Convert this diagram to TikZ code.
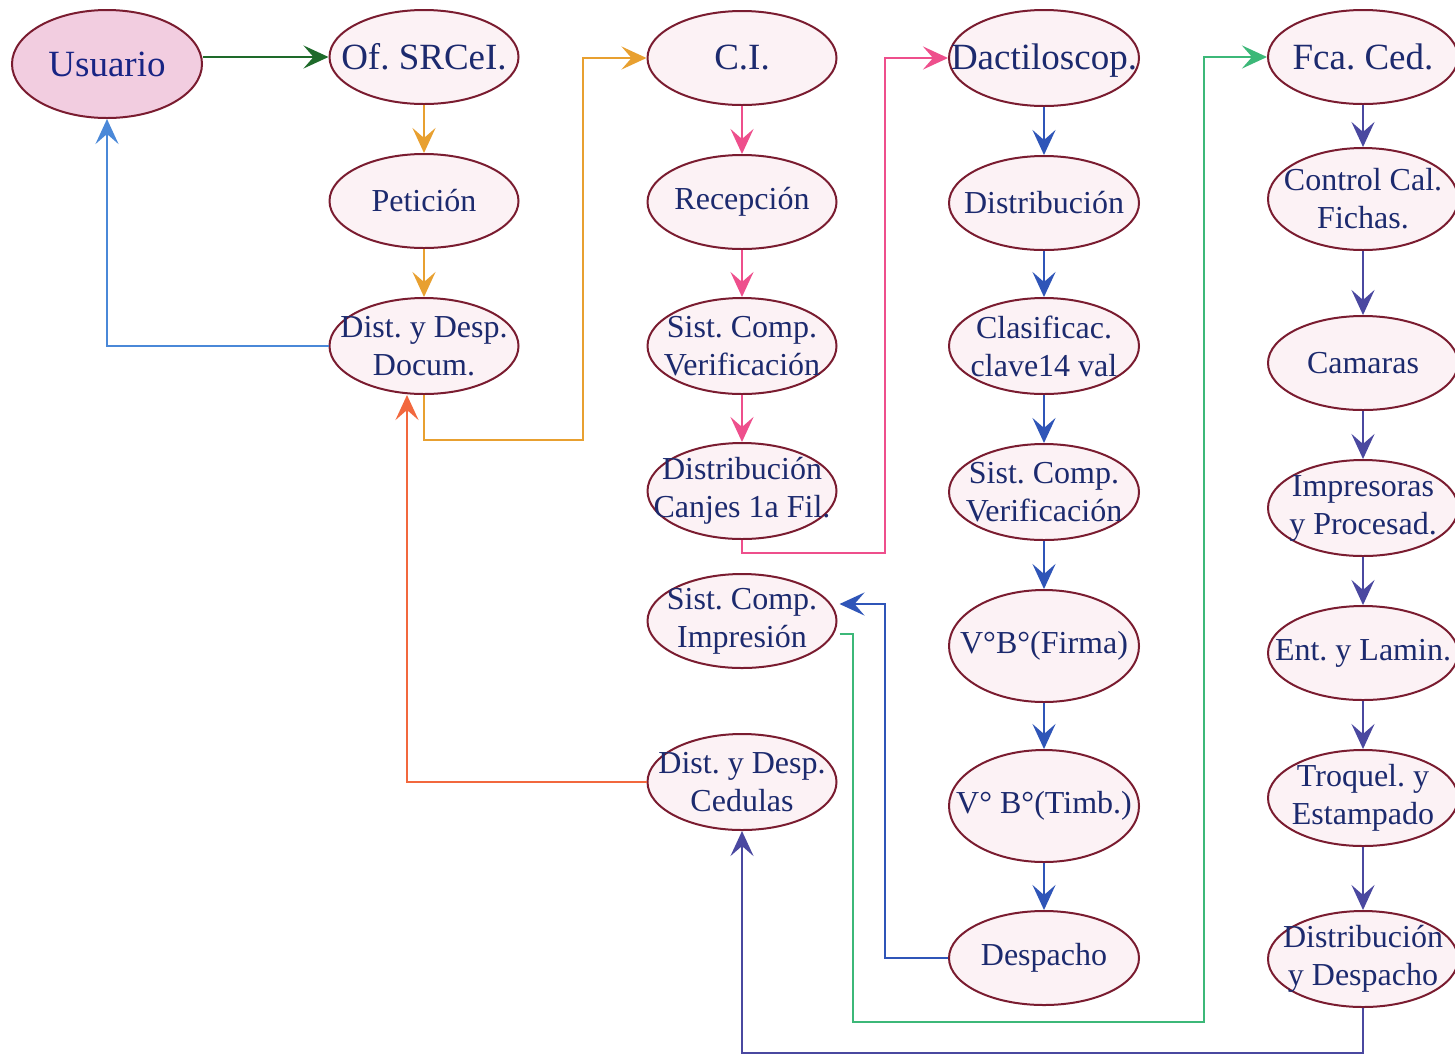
\documentclass[tikz,border=0pt]{standalone}
\usepackage{fontspec}
\setmainfont{Liberation Serif}
\usetikzlibrary{arrows.meta,shapes.geometric,calc}
\definecolor{ellstroke}{HTML}{7A1C30}
\definecolor{ellfill}{HTML}{FCF2F5}
\definecolor{usrfill}{HTML}{F2CDE0}
\definecolor{txtc}{HTML}{1C2A6E}
\definecolor{cdgreen}{HTML}{1E6A2A}
\definecolor{corange}{HTML}{E8A030}
\definecolor{clblue}{HTML}{4A88D8}
\definecolor{cpink}{HTML}{EE4F8C}
\definecolor{cblue}{HTML}{2F55B8}
\definecolor{cgreen}{HTML}{3CB878}
\definecolor{cpurple}{HTML}{4A48A0}
\definecolor{cred}{HTML}{F2683E}
\tikzset{
  ell/.style={ellipse, draw=ellstroke, fill=ellfill, line width=1pt,
    minimum width=94.5pt, minimum height=47pt, inner sep=0pt},
  tall/.style={minimum height=56pt},
  lbl/.style={text=txtc, align=center, inner sep=0pt, font=\fontsize{16}{19}\selectfont},
  big/.style={font=\fontsize{18.5}{22}\selectfont},
  conn/.style={line width=1.3pt, -{Stealth[length=12.5pt,width=11.5pt,inset=5pt]}},
}
\begin{document}
\frenchspacing
\begin{tikzpicture}[x=0.5pt,y=-0.5pt]
\fill[white] (0,0) rectangle (1455,1056);
\useasboundingbox (0,0) rectangle (1455,1056);
% column 1
\node[ell, fill=usrfill, minimum width=95pt, minimum height=54pt] (usr) at (107,64) {};
\node[lbl, big, text=txtc!85!blue] at (usr) {Usuario};
% column 2
\node[ell] (ofs) at (424,57) {};
\node[lbl, big] at (ofs) {Of. SRCeI.};
\node[ell] (pet) at (424,201) {};
\node[lbl] at (pet) {Petición};
\node[ell, minimum height=48pt] (doc) at (424,346) {};
\node[lbl] at (doc) {Dist. y Desp.\\Docum.};
% column 3
\node[ell] (ci) at (742,58) {};
\node[lbl, big] at (ci) {C.I.};
\node[ell] (rec) at (742,202) {};
\node[lbl] at (rec) {Recepción};
\node[ell, minimum height=48pt] (ver1) at (742,346) {};
\node[lbl] at (ver1) {Sist. Comp.\\Verificación};
\node[ell, minimum height=48pt] (can) at (742,491) {};
\node[lbl] at (can) {Distribución\\Canjes 1a Fil.};
\node[ell] (imp) at (742,621) {};
\node[lbl] at (imp) {Sist. Comp.\\Impresión};
\node[ell, minimum height=48pt] (ced) at (742,782) {};
\node[lbl] at (ced) {Dist. y Desp.\\Cedulas};
% column 4
\node[ell, minimum width=95pt, minimum height=48pt] (dac) at (1044,58) {};
\node[lbl, big] at ([yshift=-1.5pt]dac) {Dactiloscop.};
\node[ell, minimum width=95pt] (dis) at (1044,203) {};
\node[lbl] at (dis) {Distribución};
\node[ell, minimum width=95pt, minimum height=48pt] (cla) at (1044,346) {};
\node[lbl] at (cla) {Clasificac.\\clave14 val};
\node[ell, minimum width=95pt, minimum height=48pt] (ver2) at (1044,492) {};
\node[lbl] at (ver2) {Sist. Comp.\\Verificación};
\node[ell, tall, minimum width=95pt] (fir) at (1044,646) {};
\node[lbl] at (fir) {V°B°(Firma)};
\node[ell, tall, minimum width=95pt] (tim) at (1044,806) {};
\node[lbl] at (tim) {V° B°(Timb.)};
\node[ell, minimum width=95pt] (des) at (1044,958) {};
\node[lbl] at (des) {Despacho};
% column 5
\node[ell, minimum width=95pt] (fca) at (1363,57) {};
\node[lbl, big] at (fca) {Fca. Ced.};
\node[ell, minimum width=95pt, minimum height=51pt] (ctl) at (1363,199) {};
\node[lbl] at (ctl) {Control Cal.\\Fichas.};
\node[ell, minimum width=95pt] (cam) at (1363,363) {};
\node[lbl] at (cam) {Camaras};
\node[ell, minimum width=95pt, minimum height=48pt] (ips) at (1363,508) {};
\node[lbl] at (ips) {Impresoras\\y Procesad.};
\node[ell, minimum width=95pt] (ent) at (1363,653) {};
\node[lbl] at (ent) {Ent. y Lamin.};
\node[ell, minimum width=95pt, minimum height=48pt] (tro) at (1363,798) {};
\node[lbl] at (tro) {Troquel. y\\Estampado};
\node[ell, minimum width=95pt, minimum height=48pt] (dd) at (1363,959) {};
\node[lbl] at (dd) {Distribución\\y Despacho};
% connectors
\draw[conn, cdgreen] (usr.east |- ofs.west) -- (ofs.west);
\draw[conn, corange] (ofs) -- (pet);
\draw[conn, corange] (pet) -- (doc);
\draw[conn, corange] (doc.south) |- (583,440) |- (ci.west);
\draw[conn, clblue] (doc.west) -| (usr.south);
\draw[conn, cpink] (ci) -- (rec);
\draw[conn, cpink] (rec) -- (ver1);
\draw[conn, cpink] (ver1) -- (can);
\draw[conn, cpink] (can.south) |- (885,553) |- (dac.west);
\draw[conn, cblue] (dac) -- (dis);
\draw[conn, cblue] (dis) -- (cla);
\draw[conn, cblue] (cla) -- (ver2);
\draw[conn, cblue] (ver2) -- (fir);
\draw[conn, cblue] (fir) -- (tim);
\draw[conn, cblue] (tim) -- (des);
\draw[conn, cblue] (des.west) -| (885,604) -- ($(imp.east)+(2,-17)$);
\draw[conn, cgreen] ($(imp.east)+(2,13)$) -| (853,1022) -| (1204,57) -- (fca.west);
\draw[conn, cpurple] (fca) -- (ctl);
\draw[conn, cpurple] (ctl) -- (cam);
\draw[conn, cpurple] (cam) -- (ips);
\draw[conn, cpurple] (ips) -- (ent);
\draw[conn, cpurple] (ent) -- (tro);
\draw[conn, cpurple] (tro) -- (dd);
\draw[conn, cpurple] (dd.south) |- (742,1053) -- (ced.south);
\draw[conn, cred] (ced.west) -| ($(doc.south)+(-17,0)$);
\end{tikzpicture}
\end{document}
